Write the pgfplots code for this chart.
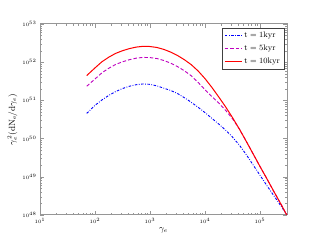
\documentclass[border=0pt]{standalone}
\usepackage{pgfplots}
\pgfplotsset{compat=1.18}
\definecolor{mplblue}{RGB}{0,0,255}
\definecolor{mplmag}{RGB}{191,0,191}
\definecolor{mplred}{RGB}{255,0,0}
\definecolor{spine}{RGB}{150,150,150}
\begin{document}
\begin{tikzpicture}
\begin{axis}[
  at={(0,0)}, anchor=south west,
  scale only axis, width=247pt, height=191pt,
  xmode=log, ymode=log,
  xmin=10, xmax=3.1e5, ymin=1e48, ymax=1e53,
  axis line style={spine, line width=1pt},
  tick style={spine},
  tick align=inside,
  major tick length=4pt, minor tick length=2pt,
  xtick={1e1,1e2,1e3,1e4,1e5},
  ytick={1e48,1e49,1e50,1e51,1e52,1e53},
  ticklabel style={font=\tiny},
  xlabel={$\gamma_e$},
  ylabel={$\gamma_e^2(\mathrm{dN_e/d}\gamma_e)$},
  label style={font=\small},
  xlabel style={yshift=3pt},
  ylabel style={yshift=-2pt},
  legend style={at={(0.988,0.98)}, anchor=north east, font=\footnotesize,
    draw=black!75, inner sep=2pt, row sep=1.8pt, cells={anchor=west}},
  legend cell align=left,
]
\addplot[color=mplblue, line width=0.9pt, dash pattern=on 2.5pt off 1.5pt on 0.8pt off 1.5pt,
  legend image code/.code={\draw[mplblue, line width=1pt, dash pattern=on 2.5pt off 1.5pt on 0.8pt off 1.5pt] (0pt,0pt) -- (17pt,0pt);}] coordinates {
(70.79,4.571e50) (100,7.413e50) (133.4,1.023e51) (177.8,1.349e51) (237.1,1.698e51) (316.2,2.042e51)
(421.7,2.344e51) (562.3,2.570e51) (749.9,2.692e51) (1000,2.630e51) (1334,2.399e51) (1778,2.089e51)
(2371,1.820e51) (3162,1.514e51) (4217,1.175e51) (5623,8.913e50) (7499,6.607e50) (10000,4.786e50)
(13335,3.388e50) (17783,2.399e50) (23714,1.660e50) (31623,1.096e50) (42170,6.761e49) (56234,3.802e49)
(74989,2.042e49) (100000,1.096e49) (133352,5.888e48) (177828,3.236e48) (237137,1.778e48) (309030,1.0e48)};
\addlegendentry{$\mathrm{t = 1kyr}$}
\addplot[color=mplmag, line width=0.9pt, dash pattern=on 3.5pt off 2pt,
  legend image code/.code={\draw[mplmag, line width=1pt, dash pattern=on 3.5pt off 2pt] (0pt,0pt) -- (17pt,0pt);}] coordinates {
(70.79,2.344e51) (100,3.631e51) (133.4,5.248e51) (177.8,6.918e51) (237.1,8.710e51) (316.2,1.023e52)
(421.7,1.161e52) (562.3,1.274e52) (749.9,1.334e52) (1000,1.318e52) (1334,1.245e52) (1778,1.109e52)
(2371,9.441e51) (3162,7.674e51) (4217,5.957e51) (5623,4.416e51) (7499,2.951e51) (10000,1.905e51)
(13335,1.259e51) (17783,8.511e50) (23714,5.495e50) (31623,3.311e50) (42170,1.778e50) (56234,8.511e49)
(74989,3.981e49) (100000,1.862e49) (133352,8.913e48) (177828,4.169e48) (237137,1.995e48) (309030,9.772e47)};
\addlegendentry{$\mathrm{t = 5kyr}$}
\addplot[color=mplred, line width=1pt,
  legend image code/.code={\draw[mplred, line width=1.1pt] (0pt,0pt) -- (17pt,0pt);}] coordinates {
(70.79,4.467e51) (100,7.079e51) (133.4,1.023e52) (177.8,1.349e52) (237.1,1.698e52) (316.2,1.995e52)
(421.7,2.265e52) (562.3,2.483e52) (749.9,2.600e52) (1000,2.570e52) (1334,2.427e52) (1778,2.163e52)
(2371,1.841e52) (3162,1.496e52) (4217,1.161e52) (5623,8.610e51) (7499,5.888e51) (10000,3.715e51)
(13335,2.188e51) (17783,1.230e51) (23714,6.761e50) (31623,3.548e50) (42170,1.778e50) (56234,8.511e49)
(74989,3.981e49) (100000,1.862e49) (133352,8.913e48) (177828,4.169e48) (237137,1.995e48) (309030,9.772e47)};
\addlegendentry{$\mathrm{t = 10kyr}$}
\end{axis}
\useasboundingbox (-40pt,-25pt) rectangle (280pt,215pt);
\end{tikzpicture}
\end{document}
